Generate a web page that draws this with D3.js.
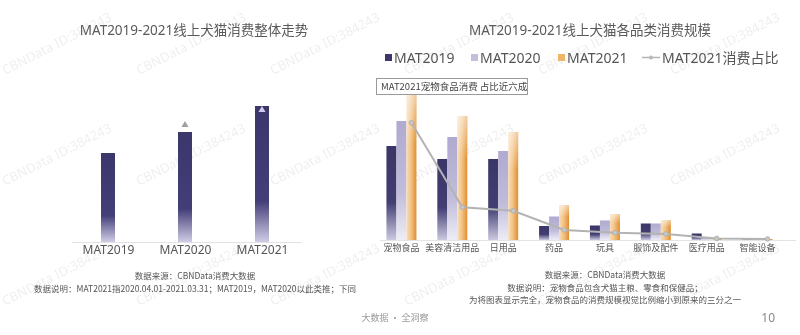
<!DOCTYPE html>
<html><head><meta charset="utf-8">
<script src="https://cdn.jsdelivr.net/npm/d3@7"></script>
<style>
html,body{margin:0;padding:0;background:#fff;}
svg{display:block;font-family:"Noto Sans","Noto Sans CJK SC",sans-serif;}
</style></head>
<body><svg id="c" width="800" height="335"></svg>
<script>
// ---- data ----
const leftCategories = ["MAT2019", "MAT2020", "MAT2021"];
const leftValues = [89, 110, 136];
const categories = ["宠物食品", "美容清洁用品", "日用品", "药品", "玩具", "服饰及配件", "医疗用品", "智能设备"];
const mat2019 = [94, 81, 81, 14, 14.5, 16.5, 6.5, 0.5];
const mat2020 = [119, 103, 89, 23.5, 19.5, 16.5, 2.5, 1];
const mat2021 = [148, 124, 108, 35, 26, 20, 2, 1];
const share2021 = [58, 16.2, 14.5, 5, 3.6, 3, 0.8, 0.5];
const seriesNames = ["MAT2019", "MAT2020", "MAT2021"];
const lineName = "MAT2021消费占比";
const annotation = "MAT2021宠物食品消费 占比近六成";
const leftTitle = "MAT2019-2021线上犬猫消费整体走势";
const rightTitle = "MAT2019-2021线上犬猫各品类消费规模";
const leftNotes = ["数据来源：CBNData消费大数据", "数据说明：MAT2021指2020.04.01-2021.03.31；MAT2019，MAT2020以此类推；下同"];
const rightNotes = ["数据来源：CBNData消费大数据", "数据说明：宠物食品包含犬猫主粮、零食和保健品；", "为将图表显示完全，宠物食品的消费规模视觉比例缩小到原来的三分之一"];
const footer = "大数据 · 全洞察";
const pageNo = "10";
const watermark = "CBNData ID:384243";

const svg = d3.select("#c");
const defs = svg.append("defs");
function grad(id, stops, horiz) {
  const g = defs.append("linearGradient").attr("id", id)
    .attr("x1", 0).attr("y1", 0).attr("x2", horiz ? 1 : 0).attr("y2", horiz ? 0 : 1);
  stops.forEach(s => g.append("stop").attr("offset", s[0]).attr("stop-color", s[1]).attr("stop-opacity", s[2] == null ? 1 : s[2]));
}
grad("gL", [[0, "#3b376b"], [0.7, "#433e77"], [1, "#cfcce6"]]);
grad("g19", [[0, "#3a3667"], [0.6, "#423e72"], [1, "#cbc8e1"]]);
grad("g20", [[0, "#afaacf"], [0.6, "#c0bcda"], [1, "#eeedf6"]]);
grad("g21", [[0, "#f8ddb8"], [0.45, "#f2c386"], [1, "#e18e2e"]], true);
grad("g21top", [[0, "#ffffff", 0.55], [0.35, "#ffffff", 0]]);

// ---- watermarks (faint diagonal grid, kept inside the page) ----
const wmEndX = [124, 258, 392, 526, 660, 792];
const wmEndY = [14, 125, 245];
const wm = svg.append("g").attr("fill", "#000").attr("opacity", 0.07).attr("font-size", 13);
wmEndY.forEach(ey => wmEndX.forEach(ex => {
  wm.append("text").attr("transform", `translate(${ex - 119},${ey + 61}) rotate(-27)`).text(watermark);
}));

// ---- left chart ----
const xL = d3.scalePoint().domain(leftCategories).range([108, 262]);
const yL = d3.scaleLinear().domain([0, 140]).range([242, 102]);
svg.append("text").attr("x", 194).attr("y", 35).attr("text-anchor", "middle")
  .attr("font-size", 13.5).attr("fill", "#5a5a5a").text(leftTitle);
svg.append("line").attr("x1", 72).attr("x2", 302).attr("y1", yL(0) + 0.5).attr("y2", yL(0) + 0.5)
  .attr("stroke", "#e2e2e2").attr("stroke-width", 1);
svg.append("g").selectAll("rect").data(leftValues).join("rect")
  .attr("x", (d, i) => xL(leftCategories[i]) - 7).attr("width", 14)
  .attr("y", d => yL(d)).attr("height", d => yL(0) - yL(d)).attr("fill", "url(#gL)");
const axL = svg.append("g").attr("transform", `translate(0,${yL(0)})`)
  .call(d3.axisBottom(xL).tickSize(0).tickPadding(3));
axL.select(".domain").remove();
axL.selectAll("text").attr("font-size", 12).attr("fill", "#555").attr("font-family", "Noto Sans, sans-serif");
// growth markers
const tri = d3.symbol().type(d3.symbolTriangle).size(22);
svg.append("path").attr("d", tri).attr("transform", `translate(${xL("MAT2020")},${yL(leftValues[1]) - 7})`).attr("fill", "#a0a0a0");
svg.append("path").attr("d", tri).attr("transform", `translate(${xL("MAT2021")},${yL(leftValues[2]) + 4})`).attr("fill", "#cfcbee");

// ---- right chart ----
const x0 = d3.scaleBand().domain(categories).range([376, 783]);
const x1 = d3.scaleBand().domain(seriesNames).range([-15, 15]);
const yR = d3.scaleLinear().domain([0, 150]).range([240, 90]);
const yS = d3.scaleLinear().domain([0, 100]).range([240, 38]);
svg.append("text").attr("x", 590).attr("y", 35).attr("text-anchor", "middle")
  .attr("font-size", 13.5).attr("fill", "#5a5a5a").text(rightTitle);
svg.append("line").attr("x1", 380).attr("x2", 796).attr("y1", yR(0) + 0.5).attr("y2", yR(0) + 0.5)
  .attr("stroke", "#e4e4e4");

const seriesVals = [mat2019, mat2020, mat2021];
const fills = ["url(#g19)", "url(#g20)", "url(#g21)"];
seriesVals.forEach((vals, si) => {
  const g = svg.append("g");
  g.selectAll("rect").data(vals).join("rect")
    .attr("x", (d, i) => x0(categories[i]) + x0.bandwidth() / 2 + x1(seriesNames[si]))
    .attr("width", x1.bandwidth())
    .attr("y", d => yR(d)).attr("height", d => yR(0) - yR(d)).attr("fill", fills[si]);
  if (si === 2) {
    g.selectAll("rect.o").data(vals).join("rect").attr("class", "o")
      .attr("x", (d, i) => x0(categories[i]) + x0.bandwidth() / 2 + x1(seriesNames[si]))
      .attr("width", x1.bandwidth())
      .attr("y", d => yR(d)).attr("height", d => yR(0) - yR(d)).attr("fill", "url(#g21top)");
  }
});
const axR = svg.append("g").attr("transform", `translate(0,${yR(0)})`)
  .call(d3.axisBottom(x0).tickSize(0).tickPadding(5));
axR.select(".domain").remove();
axR.selectAll("text").attr("font-size", 9).attr("fill", "#555").attr("font-family", "Noto Sans CJK SC, sans-serif");

// share line
const lx = (d, i) => x0(categories[i]) + x0.bandwidth() / 2 + x1("MAT2021") + x1.bandwidth() / 2;
const line = d3.line().x(lx).y(d => yS(d));
svg.append("path").datum(share2021).attr("d", line).attr("fill", "none")
  .attr("stroke", "#b3b3b3").attr("stroke-width", 2);
svg.append("g").selectAll("circle").data(share2021).join("circle")
  .attr("cx", lx).attr("cy", d => yS(d)).attr("r", 2.3)
  .attr("fill", "#c8c8c8").attr("stroke", "#b0b0b0").attr("stroke-width", 1);

// annotation
svg.append("rect").attr("x", 376.5).attr("y", 78.5).attr("width", 151).attr("height", 16)
  .attr("fill", "#fff").attr("stroke", "#9a9a9a").attr("stroke-width", 1);
svg.append("text").attr("x", 381).attr("y", 90).attr("font-size", 9.5).attr("fill", "#444")
  .attr("font-family", "Noto Sans CJK SC, sans-serif").text(annotation);

// legend
const lg = svg.append("g").attr("font-size", 14).attr("fill", "#555");
const legX = [385, 471, 558];
const legCol = ["#3c3869", "#c2bedb", "#f0b566"];
seriesNames.forEach((n, i) => {
  lg.append("rect").attr("x", legX[i]).attr("y", 54).attr("width", 7).attr("height", 7).attr("fill", legCol[i]);
  lg.append("text").attr("x", legX[i] + 9).attr("y", 62.5).text(n);
});
lg.append("line").attr("x1", 642).attr("x2", 660).attr("y1", 57.5).attr("y2", 57.5).attr("stroke", "#b3b3b3").attr("stroke-width", 1.5);
lg.append("circle").attr("cx", 651).attr("cy", 57.5).attr("r", 2).attr("fill", "#b8b8b8");
lg.append("text").attr("x", 662).attr("y", 62.5).attr("font-family", "Noto Sans, Noto Sans CJK SC, sans-serif").text(lineName);

// notes
function noteBlock(lines, x, y, gap) {
  lines.forEach((s, i) => svg.append("text").attr("x", x).attr("y", y + i * gap)
    .attr("font-size", 8.5).attr("fill", "#555").attr("text-anchor", "middle")
    .attr("font-family", "Noto Sans CJK SC, sans-serif").text(s));
}
noteBlock(leftNotes, 195, 279, 12.5);
noteBlock(rightNotes, 605, 278, 12.5);
svg.append("text").attr("x", 395).attr("y", 321).attr("text-anchor", "middle").attr("font-size", 9)
  .attr("fill", "#999").attr("font-family", "Noto Sans CJK SC, sans-serif").text(footer);
svg.append("text").attr("x", 775).attr("y", 322).attr("text-anchor", "end").attr("font-size", 12)
  .attr("fill", "#888").text(pageNo);
</script></body></html>
